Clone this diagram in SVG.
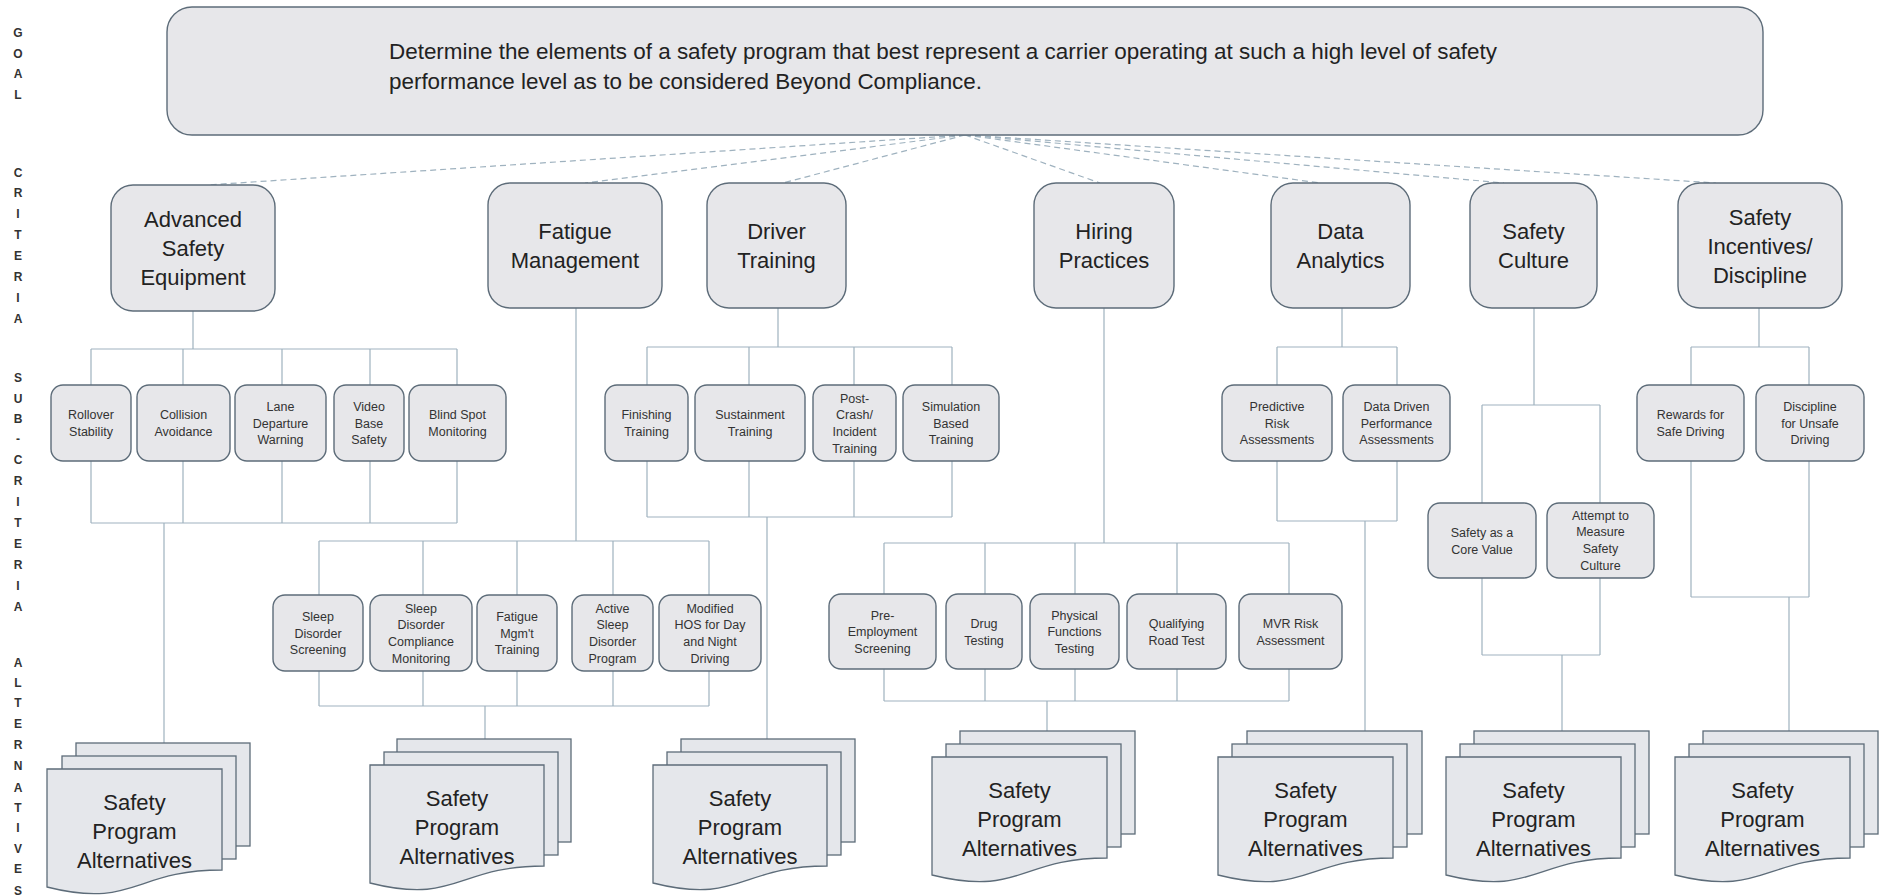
<svg xmlns="http://www.w3.org/2000/svg" width="1879" height="896" viewBox="0 0 1879 896">
<style>
.bg{fill:#ffffff}
.box{fill:#e7e7ea;stroke:#5d6c79;stroke-width:1.4}
.sheet{fill:#e5e7eb;stroke:#5d6c79;stroke-width:1.3}
.ln{fill:none;stroke:#9fb2bf;stroke-width:1.2}
.dash{fill:none;stroke:#9fb2bf;stroke-width:1.2;stroke-dasharray:6 4}
.big{font-family:"Liberation Sans",Arial,sans-serif;font-size:22px;fill:#222;text-anchor:middle}
.goal{font-family:"Liberation Sans",Arial,sans-serif;font-size:22px;fill:#222}
.sm{font-family:"Liberation Sans",Arial,sans-serif;font-size:12.5px;fill:#333;text-anchor:middle}
.lab{font-family:"Liberation Sans",Arial,sans-serif;font-size:12px;font-weight:bold;fill:#333;text-anchor:middle}
</style>
<rect class="bg" x="0" y="0" width="1879" height="896"/>

<g id="side-labels">
<text class="lab"><tspan x="18" y="37">G</tspan><tspan x="18" y="58">O</tspan><tspan x="18" y="78">A</tspan><tspan x="18" y="99">L</tspan></text>
<text class="lab"><tspan x="18" y="177">C</tspan><tspan x="18" y="197">R</tspan><tspan x="18" y="218">I</tspan><tspan x="18" y="239">T</tspan><tspan x="18" y="260">E</tspan><tspan x="18" y="281">R</tspan><tspan x="18" y="302">I</tspan><tspan x="18" y="323">A</tspan></text>
<text class="lab"><tspan x="18" y="382">S</tspan><tspan x="18" y="403">U</tspan><tspan x="18" y="423">B</tspan><tspan x="18" y="443">-</tspan><tspan x="18" y="464">C</tspan><tspan x="18" y="485">R</tspan><tspan x="18" y="506">I</tspan><tspan x="18" y="527">T</tspan><tspan x="18" y="548">E</tspan><tspan x="18" y="569">R</tspan><tspan x="18" y="590">I</tspan><tspan x="18" y="611">A</tspan></text>
<text class="lab"><tspan x="18" y="667">A</tspan><tspan x="18" y="687">L</tspan><tspan x="18" y="707">T</tspan><tspan x="18" y="728">E</tspan><tspan x="18" y="749">R</tspan><tspan x="18" y="770">N</tspan><tspan x="18" y="792">A</tspan><tspan x="18" y="812">T</tspan><tspan x="18" y="832">I</tspan><tspan x="18" y="853">V</tspan><tspan x="18" y="873">E</tspan><tspan x="18" y="895">S</tspan></text>
</g>

<g id="connectors">
<path class="dash" d="M965 135 L207 185"/>
<path class="dash" d="M965 135 L585 183"/>
<path class="dash" d="M965 135 L783 183"/>
<path class="dash" d="M965 135 L1100 183"/>
<path class="dash" d="M965 135 L1320 183"/>
<path class="dash" d="M965 135 L1504 183"/>
<path class="dash" d="M965 135 L1716 183"/>
<path class="ln" d="M193 311V349M91 349H457M91 349V385M183 349V385M282 349V385M370 349V385M457 349V385M91 461V523M183 461V523M282 461V523M370 461V523M457 461V523M91 523H457M164 523V743"/>
<path class="ln" d="M576 308V541M319 541H709M319 541V595M423 541V595M517 541V595M613 541V595M709 541V595M319 671V706M423 671V706M517 671V706M613 671V706M709 671V706M319 706H709M485 706V739"/>
<path class="ln" d="M778 308V347M647 347H952M647 347V385M749 347V385M854 347V385M952 347V385M647 461V517M749 461V517M854 461V517M952 461V517M647 517H952M767 517V739"/>
<path class="ln" d="M1104 308V543M884 543H1289M884 543V594M985 543V594M1075 543V594M1177 543V594M1289 543V594M884 669V701M985 669V701M1075 669V701M1177 669V701M1289 669V701M884 701H1289M1047 701V731"/>
<path class="ln" d="M1342 308V347M1277 347H1397M1277 347V385M1397 347V385M1277 461V521M1397 461V521M1277 521H1397M1365 521V731"/>
<path class="ln" d="M1534 308V405M1482 405H1600M1482 405V503M1600 405V503M1482 578V655M1600 578V655M1482 655H1600M1562 655V731"/>
<path class="ln" d="M1759 308V347M1691 347H1809M1691 347V385M1809 347V385M1691 461V597M1809 461V597M1691 597H1809M1789 597V731"/>
</g>

<g id="goal">
<rect class="box" x="167" y="7" width="1596" height="128" rx="25"/>
<text class="goal" x="389" y="59" textLength="1108" lengthAdjust="spacingAndGlyphs">Determine the elements of a safety program that best represent a carrier operating at such a high level of safety</text>
<text class="goal" x="389" y="89" textLength="593" lengthAdjust="spacingAndGlyphs">performance level as to be considered Beyond Compliance.</text>
</g>

<g id="crit-advanced"><rect class="box" x="111" y="185" width="164" height="126" rx="22"/><text class="big"><tspan x="193" y="227">Advanced</tspan><tspan x="193" y="256">Safety</tspan><tspan x="193" y="285">Equipment</tspan></text></g>
<g id="crit-fatigue"><rect class="box" x="488" y="183" width="174" height="125" rx="22"/><text class="big"><tspan x="575" y="239">Fatigue</tspan><tspan x="575" y="268">Management</tspan></text></g>
<g id="crit-driver"><rect class="box" x="707" y="183" width="139" height="125" rx="22"/><text class="big"><tspan x="776.5" y="239">Driver</tspan><tspan x="776.5" y="268">Training</tspan></text></g>
<g id="crit-hiring"><rect class="box" x="1034" y="183" width="140" height="125" rx="22"/><text class="big"><tspan x="1104" y="239">Hiring</tspan><tspan x="1104" y="268">Practices</tspan></text></g>
<g id="crit-data"><rect class="box" x="1271" y="183" width="139" height="125" rx="22"/><text class="big"><tspan x="1340.5" y="239">Data</tspan><tspan x="1340.5" y="268">Analytics</tspan></text></g>
<g id="crit-culture"><rect class="box" x="1470" y="183" width="127" height="125" rx="22"/><text class="big"><tspan x="1533.5" y="239">Safety</tspan><tspan x="1533.5" y="268">Culture</tspan></text></g>
<g id="crit-incentives"><rect class="box" x="1678" y="183" width="164" height="125" rx="22"/><text class="big"><tspan x="1760" y="225">Safety</tspan><tspan x="1760" y="254">Incentives/</tspan><tspan x="1760" y="283">Discipline</tspan></text></g>

<g id="sub-rollover"><rect class="box" x="51" y="385" width="80" height="76" rx="12"/><text class="sm"><tspan x="91" y="419">Rollover</tspan><tspan x="91" y="436">Stability</tspan></text></g>
<g id="sub-collision"><rect class="box" x="137" y="385" width="93" height="76" rx="12"/><text class="sm"><tspan x="183.5" y="419">Collision</tspan><tspan x="183.5" y="436">Avoidance</tspan></text></g>
<g id="sub-lane"><rect class="box" x="235" y="385" width="91" height="76" rx="12"/><text class="sm"><tspan x="280.5" y="411">Lane</tspan><tspan x="280.5" y="427.5">Departure</tspan><tspan x="280.5" y="444">Warning</tspan></text></g>
<g id="sub-video"><rect class="box" x="334" y="385" width="70" height="76" rx="12"/><text class="sm"><tspan x="369" y="411">Video</tspan><tspan x="369" y="427.5">Base</tspan><tspan x="369" y="444">Safety</tspan></text></g>
<g id="sub-blind"><rect class="box" x="409" y="385" width="97" height="76" rx="12"/><text class="sm"><tspan x="457.5" y="419">Blind Spot</tspan><tspan x="457.5" y="436">Monitoring</tspan></text></g>

<g id="sub-sleep-screen"><rect class="box" x="273" y="595" width="90" height="76" rx="12"/><text class="sm"><tspan x="318" y="621">Sleep</tspan><tspan x="318" y="637.5">Disorder</tspan><tspan x="318" y="654">Screening</tspan></text></g>
<g id="sub-sleep-comp"><rect class="box" x="370" y="595" width="102" height="76" rx="12"/><text class="sm"><tspan x="421" y="612.5">Sleep</tspan><tspan x="421" y="629">Disorder</tspan><tspan x="421" y="646">Compliance</tspan><tspan x="421" y="662.5">Monitoring</tspan></text></g>
<g id="sub-fatigue-train"><rect class="box" x="477" y="595" width="80" height="76" rx="12"/><text class="sm"><tspan x="517" y="621">Fatigue</tspan><tspan x="517" y="637.5">Mgm't</tspan><tspan x="517" y="654">Training</tspan></text></g>
<g id="sub-active-sleep"><rect class="box" x="572" y="595" width="81" height="76" rx="12"/><text class="sm"><tspan x="612.5" y="612.5">Active</tspan><tspan x="612.5" y="629">Sleep</tspan><tspan x="612.5" y="646">Disorder</tspan><tspan x="612.5" y="662.5">Program</tspan></text></g>
<g id="sub-hos"><rect class="box" x="659" y="595" width="102" height="76" rx="12"/><text class="sm"><tspan x="710" y="612.5">Modified</tspan><tspan x="710" y="629">HOS for Day</tspan><tspan x="710" y="646">and Night</tspan><tspan x="710" y="662.5">Driving</tspan></text></g>

<g id="sub-finishing"><rect class="box" x="605" y="385" width="83" height="76" rx="12"/><text class="sm"><tspan x="646.5" y="419">Finishing</tspan><tspan x="646.5" y="436">Training</tspan></text></g>
<g id="sub-sustain"><rect class="box" x="695" y="385" width="110" height="76" rx="12"/><text class="sm"><tspan x="750" y="419">Sustainment</tspan><tspan x="750" y="436">Training</tspan></text></g>
<g id="sub-postcrash"><rect class="box" x="813" y="385" width="83" height="76" rx="12"/><text class="sm"><tspan x="854.5" y="402.5">Post-</tspan><tspan x="854.5" y="419">Crash/</tspan><tspan x="854.5" y="436">Incident</tspan><tspan x="854.5" y="452.5">Training</tspan></text></g>
<g id="sub-simulation"><rect class="box" x="903" y="385" width="96" height="76" rx="12"/><text class="sm"><tspan x="951" y="411">Simulation</tspan><tspan x="951" y="427.5">Based</tspan><tspan x="951" y="444">Training</tspan></text></g>

<g id="sub-preemp"><rect class="box" x="829" y="594" width="107" height="75" rx="12"/><text class="sm"><tspan x="882.5" y="619.5">Pre-</tspan><tspan x="882.5" y="636">Employment</tspan><tspan x="882.5" y="652.5">Screening</tspan></text></g>
<g id="sub-drug"><rect class="box" x="946" y="594" width="76" height="75" rx="12"/><text class="sm"><tspan x="984" y="627.5">Drug</tspan><tspan x="984" y="644.5">Testing</tspan></text></g>
<g id="sub-physical"><rect class="box" x="1030" y="594" width="89" height="75" rx="12"/><text class="sm"><tspan x="1074.5" y="619.5">Physical</tspan><tspan x="1074.5" y="636">Functions</tspan><tspan x="1074.5" y="652.5">Testing</tspan></text></g>
<g id="sub-roadtest"><rect class="box" x="1127" y="594" width="99" height="75" rx="12"/><text class="sm"><tspan x="1176.5" y="627.5">Qualifying</tspan><tspan x="1176.5" y="644.5">Road Test</tspan></text></g>
<g id="sub-mvr"><rect class="box" x="1239" y="594" width="103" height="75" rx="12"/><text class="sm"><tspan x="1290.5" y="627.5">MVR Risk</tspan><tspan x="1290.5" y="644.5">Assessment</tspan></text></g>

<g id="sub-predictive"><rect class="box" x="1222" y="385" width="110" height="76" rx="12"/><text class="sm"><tspan x="1277" y="411">Predictive</tspan><tspan x="1277" y="427.5">Risk</tspan><tspan x="1277" y="444">Assessments</tspan></text></g>
<g id="sub-datadriven"><rect class="box" x="1343" y="385" width="107" height="76" rx="12"/><text class="sm"><tspan x="1396.5" y="411">Data Driven</tspan><tspan x="1396.5" y="427.5">Performance</tspan><tspan x="1396.5" y="444">Assessments</tspan></text></g>

<g id="sub-corevalue"><rect class="box" x="1428" y="503" width="108" height="75" rx="12"/><text class="sm"><tspan x="1482" y="536.5">Safety as a</tspan><tspan x="1482" y="553.5">Core Value</tspan></text></g>
<g id="sub-measure"><rect class="box" x="1547" y="503" width="107" height="75" rx="12"/><text class="sm"><tspan x="1600.5" y="519.5">Attempt to</tspan><tspan x="1600.5" y="536">Measure</tspan><tspan x="1600.5" y="553">Safety</tspan><tspan x="1600.5" y="569.5">Culture</tspan></text></g>

<g id="sub-rewards"><rect class="box" x="1637" y="385" width="107" height="76" rx="12"/><text class="sm"><tspan x="1690.5" y="419">Rewards for</tspan><tspan x="1690.5" y="436">Safe Driving</tspan></text></g>
<g id="sub-discipline"><rect class="box" x="1756" y="385" width="108" height="76" rx="12"/><text class="sm"><tspan x="1810" y="411">Discipline</tspan><tspan x="1810" y="427.5">for Unsafe</tspan><tspan x="1810" y="444">Driving</tspan></text></g>

<g id="alt-advanced">
<rect class="sheet" x="76" y="743" width="174" height="103"/>
<rect class="sheet" x="62" y="756" width="174" height="103"/>
<path class="sheet" d="M47 769H222V870C134 870 134 909 47 887Z"/>
<text class="big"><tspan x="134.5" y="810">Safety</tspan><tspan x="134.5" y="839">Program</tspan><tspan x="134.5" y="868">Alternatives</tspan></text>
</g>
<g id="alt-fatigue">
<rect class="sheet" x="397" y="739" width="174" height="103"/>
<rect class="sheet" x="384" y="752" width="174" height="103"/>
<path class="sheet" d="M370 765H544V866C457 866 457 905 370 883Z"/>
<text class="big"><tspan x="457" y="806">Safety</tspan><tspan x="457" y="835">Program</tspan><tspan x="457" y="864">Alternatives</tspan></text>
</g>
<g id="alt-driver">
<rect class="sheet" x="681" y="739" width="174" height="103"/>
<rect class="sheet" x="667" y="752" width="174" height="103"/>
<path class="sheet" d="M653 765H827V866C740 866 740 905 653 883Z"/>
<text class="big"><tspan x="740" y="806">Safety</tspan><tspan x="740" y="835">Program</tspan><tspan x="740" y="864">Alternatives</tspan></text>
</g>
<g id="alt-hiring">
<rect class="sheet" x="960" y="731" width="175" height="103"/>
<rect class="sheet" x="946" y="744" width="175" height="103"/>
<path class="sheet" d="M932 757H1107V858C1020 858 1020 897 932 875Z"/>
<text class="big"><tspan x="1019.5" y="798">Safety</tspan><tspan x="1019.5" y="827">Program</tspan><tspan x="1019.5" y="856">Alternatives</tspan></text>
</g>
<g id="alt-data">
<rect class="sheet" x="1247" y="731" width="175" height="103"/>
<rect class="sheet" x="1232" y="744" width="175" height="103"/>
<path class="sheet" d="M1218 757H1393V858C1306 858 1306 897 1218 875Z"/>
<text class="big"><tspan x="1305.5" y="798">Safety</tspan><tspan x="1305.5" y="827">Program</tspan><tspan x="1305.5" y="856">Alternatives</tspan></text>
</g>
<g id="alt-culture">
<rect class="sheet" x="1474" y="731" width="175" height="103"/>
<rect class="sheet" x="1460" y="744" width="175" height="103"/>
<path class="sheet" d="M1446 757H1621V858C1534 858 1534 897 1446 875Z"/>
<text class="big"><tspan x="1533.5" y="798">Safety</tspan><tspan x="1533.5" y="827">Program</tspan><tspan x="1533.5" y="856">Alternatives</tspan></text>
</g>
<g id="alt-incentives">
<rect class="sheet" x="1703" y="731" width="175" height="103"/>
<rect class="sheet" x="1689" y="744" width="175" height="103"/>
<path class="sheet" d="M1675 757H1850V858C1763 858 1763 897 1675 875Z"/>
<text class="big"><tspan x="1762.5" y="798">Safety</tspan><tspan x="1762.5" y="827">Program</tspan><tspan x="1762.5" y="856">Alternatives</tspan></text>
</g>
</svg>
